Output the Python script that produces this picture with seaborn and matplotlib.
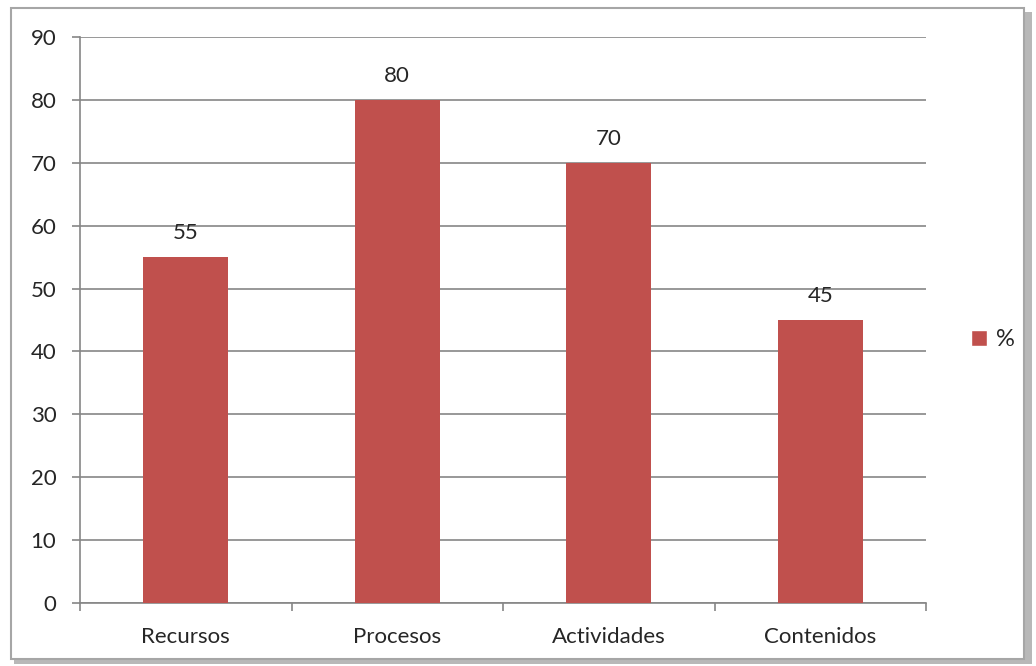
import matplotlib
matplotlib.use("Agg")
import matplotlib.pyplot as plt
import seaborn as sns
import pandas as pd
from matplotlib.patches import Rectangle, Patch

categories = ["Recursos", "Procesos", "Actividades", "Contenidos"]
values = [55, 80, 70, 45]
series_name = "%"
yticks = [0, 10, 20, 30, 40, 50, 60, 70, 80, 90]

sns.set_style("white")
plt.rcParams['font.family'] = ['Lato', 'DejaVu Sans']

df = pd.DataFrame({"cat": categories, "val": values})
fig = plt.figure(figsize=(10.36, 6.66), dpi=100)

# frame with shadow
fig.patches.append(Rectangle((14/1036, 1-664/666), 1018/1036, 652/666, transform=fig.transFigure,
                             facecolor="#b8b8b8", edgecolor="none", zorder=0))
fig.patches.append(Rectangle((11/1036, 1-659/666), 1013/1036, 651/666, transform=fig.transFigure,
                             facecolor="white", edgecolor="#a6a6a6", linewidth=1.5, zorder=1))

ax = fig.add_axes([80/1036, 1-603/666, 846/1036, 566/666])
ax.set_zorder(2)
sns.barplot(data=df, x="cat", y="val", color="#C0504D", width=0.4, saturation=1, ax=ax,
            zorder=3, edgecolor="none", linewidth=0)
ax.set_xlim(-0.5, 3.5)
ax.set_ylim(0, 90)
ax.set_yticks(yticks)
ax.yaxis.grid(True, color="#868686", linewidth=1.2)
ax.set_axisbelow(True)
ax.set_xlabel("")
ax.set_ylabel("")
for s in ["top", "right"]:
    ax.spines[s].set_visible(False)
for s in ["left", "bottom"]:
    ax.spines[s].set_color("#868686")
    ax.spines[s].set_linewidth(1.2)
ax.patch.set_alpha(0)
ax.tick_params(axis="y", left=True, length=6, width=1.2, color="#868686", pad=11, labelsize=16)
ax.set_xticks([-0.5, 0.5, 1.5, 2.5, 3.5], minor=True)
ax.tick_params(axis="x", which="minor", bottom=True, length=6, width=1.2, color="#868686")
ax.tick_params(axis="x", which="major", bottom=False, length=0, pad=17, labelsize=16)
for c in ax.containers:
    ax.bar_label(c, labels=[str(v) for v in values], padding=10, fontsize=16)

fig.legend(handles=[Patch(facecolor="#C0504D", label=series_name)], loc="center left",
           bbox_to_anchor=(0.917, 0.49), frameon=False, fontsize=17,
           handlelength=0.65, handleheight=0.65, handletextpad=0.4)

fig.savefig("out.png", dpi=100)
